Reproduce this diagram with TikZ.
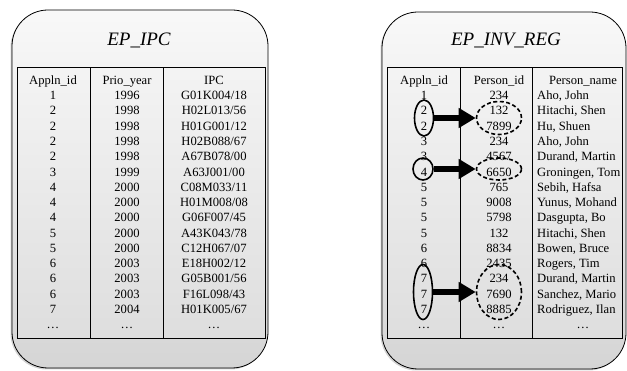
\documentclass[tikz,border=0pt]{standalone}
\usepackage{fontspec}
\setmainfont{Liberation Serif}
\usetikzlibrary{shadows}
\usetikzlibrary{arrows.meta}
\usetikzlibrary{shapes.geometric}
\usetikzlibrary{calc,positioning}

\begin{document}
\begin{tikzpicture}[>=Stealth, x=1pt, y=-1pt,
    tablebox/.style={draw, line width=0.8pt, rounded corners=36pt,
        top color=gray!5, bottom color=gray!33,
        drop shadow={shadow xshift=-1.5pt, shadow yshift=-1.5pt, opacity=0.35}},
    column/.style={draw, line width=0.8pt, top color=gray!9, bottom color=gray!26},
    title/.style={font=\fontsize{19}{22}\selectfont\itshape},
    cell/.style={font=\fontsize{12.6}{14}\selectfont, inner sep=0pt, anchor=base},
    namecell/.style={cell, anchor=base west},
    group/.style={draw, ellipse, line width=1.6pt, inner sep=0pt},
    target/.style={group, dash pattern=on 4pt off 2.5pt},
    link/.style={-{Triangle[length=17pt, width=19pt]}, line width=6pt}]

    \useasboundingbox (0,0) rectangle (627,371);

    % the two tables
    \path[tablebox] (12,10) rectangle (268,368);
    \path[tablebox] (382,12) rectangle (626,369);

    \node[title] (ipcTitle) at (139,40) {EP\_IPC};
    \node[title] (invTitle) at (506,40) {EP\_INV\_REG};

    \path[column] (17,67) rectangle (90,338);
    \path[column] (90,67) rectangle (163,338);
    \path[column] (163,67) rectangle (265,338);

    \path[column] (387,67) rectangle (460,338);
    \path[column] (460,67) rectangle (532,338);
    \path[column] (532,67) rectangle (622,338);

    % EP_IPC
    \node[cell] (ipcA-0) at (53,84.4) {Appln\_id};
    \node[cell] (ipcB-0) at (127,84.4) {Prio\_year};
    \node[cell] (ipcC-0) at (214,84.4) {IPC};
    \foreach \id/\year/\cls/\grp [count=\k] in {
        1/1996/G01K004/18, 2/1998/H02L013/56, 2/1998/H01G001/12,
        2/1998/H02B088/67, 2/1998/A67B078/00, 3/1999/A63J001/00,
        4/2000/C08M033/11, 4/2000/H01M008/08, 4/2000/G06F007/45,
        5/2000/A43K043/78, 5/2000/C12H067/07, 6/2003/E18H002/12,
        6/2003/G05B001/56, 6/2003/F16L098/43, 7/2004/H01K005/67} {
        \node[cell] (ipcA-\k) at (53,{84.4+15.27*\k}) {\id};
        \node[cell] (ipcB-\k) at (127,{84.4+15.27*\k}) {\year};
        \node[cell] (ipcC-\k) at (214,{84.4+15.27*\k}) {\cls/\grp};
    }
    \node[cell] (ipcA-16) at (53,328.7) {\dots};
    \node[cell] (ipcB-16) at (127,328.7) {\dots};
    \node[cell] (ipcC-16) at (214,328.7) {\dots};

    % EP_INV_REG
    \node[cell] (invA-0) at (424,84.4) {Appln\_id};
    \node[cell] (invB-0) at (499,84.4) {Person\_id};
    \node[cell] (invC-0) at (583,84.4) {Person\_name};
    \foreach \id/\pid/\last/\first [count=\k] in {
        1/234/Aho/John, 2/132/Hitachi/Shen, 2/7899/Hu/Shuen,
        3/234/Aho/John, 3/4567/Durand/Martin, 4/6650/Groningen/Tom,
        5/765/Sebih/Hafsa, 5/9008/Yunus/Mohand, 5/5798/Dasgupta/Bo,
        5/132/Hitachi/Shen, 6/8834/Bowen/Bruce, 6/2435/Rogers/Tim,
        7/234/Durand/Martin, 7/7690/Sanchez/Mario, 7/8885/Rodriguez/Ilan} {
        \node[cell] (invA-\k) at (424,{84.4+15.27*\k}) {\id};
        \node[cell] (invB-\k) at (499,{84.4+15.27*\k}) {\pid};
        \node[namecell] (invC-\k) at (537,{84.4+15.27*\k}) {\last, \first};
    }
    \node[cell] (invA-16) at (424,328.7) {\dots};
    \node[cell] (invB-16) at (499,328.7) {\dots};
    \node[cell] (invC-16) at (583,328.7) {\dots};

    % groups of the same application
    \node[group, minimum width=19pt, minimum height=36pt] (grpA) at (424,118) {};
    \node[target, minimum width=45pt, minimum height=33pt] (tgtA) at (499,118) {};
    \node[group, minimum width=20pt, minimum height=22pt] (grpB) at (423,169) {};
    \node[target, minimum width=45pt, minimum height=22pt] (tgtB) at (499,169) {};
    \node[group, minimum width=19pt, minimum height=55pt] (grpC) at (423,292) {};
    \node[target, minimum width=45pt, minimum height=55pt] (tgtC) at (499,292) {};

    \draw[link] (grpA.east) -- (tgtA.west);
    \draw[link] (grpB.east) -- (tgtB.west);
    \draw[link] (grpC.east) -- (tgtC.west);

\end{tikzpicture}
\end{document}
